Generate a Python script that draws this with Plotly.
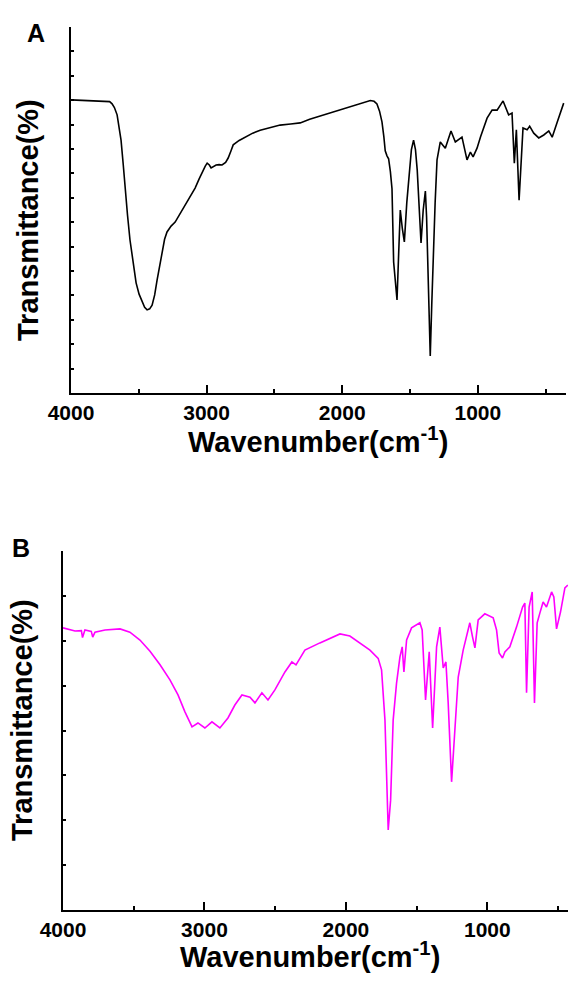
import plotly.graph_objects as go

# ---- Panel A data (wavenumber cm^-1, transmittance a.u.) ----
wn_a = [4000, 3860, 3749, 3715, 3697, 3680, 3660, 3645, 3631, 3615, 3601, 3583, 3565, 3543,
        3520, 3498, 3476, 3457, 3439, 3420, 3402, 3383, 3365, 3346, 3328, 3310, 3292, 3262,
        3232, 3195, 3159, 3122, 3085, 3055, 3026, 3010, 2996, 2980, 2967, 2950, 2930, 2908,
        2886, 2860, 2841, 2820, 2804, 2760, 2716, 2660, 2605, 2530, 2458, 2380, 2310, 2240,
        2162, 2090, 2015, 1960, 1904, 1860, 1830, 1793, 1765, 1744, 1725, 1707, 1693, 1683,
        1670, 1658, 1645, 1633, 1621, 1608, 1596, 1584, 1572, 1557, 1542, 1524, 1506, 1490,
        1474, 1460, 1447, 1433, 1419, 1403, 1387, 1378, 1369, 1360, 1351, 1340, 1328, 1315,
        1301, 1277, 1240, 1198, 1166, 1117, 1080, 1055, 1035, 1006, 980, 957, 932, 895, 858,
        814, 773, 748, 731, 716, 696, 667, 637, 618, 588, 551, 514, 477, 452, 415, 391, 367]
t_a = [80.1, 79.9, 79.8, 79.6, 79.0, 78.0, 76.0, 73.0, 69.1, 62.5, 55.5, 48.5, 41.8, 35.5,
       30.1, 27.0, 24.9, 23.4, 22.7, 23.0, 24.0, 26.8, 30.9, 35.0, 39.1, 42.0, 44.0, 45.6,
       46.7, 49.0, 51.4, 53.8, 56.0, 58.5, 60.9, 62.0, 62.8, 62.3, 61.5, 61.8, 62.3, 62.4,
       62.3, 63.0, 64.2, 66.2, 67.8, 69.0, 69.9, 71.0, 71.8, 72.6, 73.2, 73.5, 73.8, 74.8,
       75.7, 76.5, 77.3, 78.0, 78.7, 79.2, 79.5, 79.9, 79.7, 79.0, 77.0, 74.1, 70.0, 66.2,
       64.8, 64.0, 60.5, 55.8, 35.8, 30.0, 25.4, 38.0, 50.0, 45.0, 41.3, 52.0, 60.9, 66.5,
       69.1, 66.5, 60.9, 50.0, 41.0, 50.0, 55.2, 48.0, 36.3, 20.0, 10.1, 24.0, 39.1, 52.0,
       63.7, 68.6, 66.9, 71.6, 68.6, 69.9, 63.7, 65.8, 64.5, 66.9, 70.0, 72.7, 75.1, 77.3,
       77.3, 79.8, 76.0, 76.5, 62.8, 71.9, 52.7, 72.4, 71.9, 72.9, 71.0, 69.7, 70.5, 71.6,
       69.9, 74.0, 76.8, 79.2]

# ---- Panel B data ----
wn_b = [4000, 3915, 3870, 3862, 3845, 3800, 3790, 3774, 3703, 3597, 3527, 3456, 3385, 3314,
        3244, 3187, 3138, 3088, 3046, 2997, 2947, 2891, 2834, 2785, 2735, 2678, 2643, 2594,
        2551, 2502, 2431, 2382, 2353, 2290, 2184, 2042, 1972, 1901, 1830, 1772, 1748, 1724,
        1701, 1684, 1666, 1642, 1618, 1602, 1590, 1571, 1536, 1477, 1461, 1437, 1411, 1387,
        1359, 1336, 1312, 1293, 1277, 1253, 1230, 1206, 1171, 1124, 1105, 1088, 1065, 1018,
        959, 935, 917, 893, 876, 841, 794, 751, 735, 723, 705, 683, 667, 648, 629, 606, 582,
        546, 530, 511, 483, 452, 431]
t_b = [78.6, 77.7, 77.8, 75.9, 78.0, 77.6, 76.0, 77.4, 78.0, 78.3, 77.4, 75.2, 72.1, 68.3,
       64.1, 59.9, 55.2, 51.0, 52.1, 50.7, 52.4, 50.7, 53.5, 57.1, 59.9, 59.3, 57.7, 60.5,
       58.5, 61.3, 66.3, 69.1, 68.3, 72.4, 74.4, 76.9, 76.3, 74.4, 72.4, 70.1, 66.9, 52.9,
       22.3, 30.6, 52.9, 63.2, 70.5, 73.3, 66.3, 75.2, 78.6, 80.0, 78.0, 58.5, 71.9, 50.7,
       73.3, 78.8, 67.4, 69.1, 57.7, 35.7, 51.0, 64.9, 72.4, 80.0, 76.1, 73.0, 80.8, 82.5,
       81.4, 78.0, 71.6, 70.2, 71.9, 73.3, 78.8, 84.4, 85.5, 60.5, 84.4, 88.6, 57.7, 80.0,
       82.7, 85.8, 84.4, 88.6, 87.2, 78.3, 83.0, 89.7, 90.5]

x_ticks = [4000, 3000, 2000, 1000]
x_ticklabels = ["4000", "3000", "2000", "1000"]
x_minor = [3500, 2500, 1500, 500]

W, H = 568, 983
FONT = "Arial, Liberation Sans, sans-serif"

fig = go.Figure()
fig.add_trace(go.Scatter(x=wn_a, y=t_a, mode="lines", line=dict(color="black", width=1.6),
                         xaxis="x", yaxis="y", showlegend=False))
fig.add_trace(go.Scatter(x=wn_b, y=t_b, mode="lines", line=dict(color="#ff00ff", width=1.6),
                         xaxis="x2", yaxis="y2", showlegend=False))


def px_x(p):
    return p / W


def px_y(p):
    return 1 - p / H


xcommon = dict(showgrid=False, zeroline=False, showline=True, linecolor="black", linewidth=2,
               ticks="inside", ticklen=8, tickwidth=2, tickcolor="black",
               tickmode="array", tickvals=x_ticks, ticktext=x_ticklabels,
               tickfont=dict(family=FONT, size=21, color="black", weight="bold"),
               minor=dict(ticks="inside", ticklen=4, tickwidth=2, tickcolor="black",
                          tickmode="array", tickvals=x_minor),
               mirror=False, automargin=False)
ycommon = dict(showgrid=False, zeroline=False, showline=True, linecolor="black", linewidth=2,
               ticks="inside", ticklen=3, tickwidth=2, tickcolor="black", showticklabels=False,
               range=[0, 100], tick0=0, automargin=False)

fig.update_layout(
    width=W, height=H, margin=dict(l=0, r=0, t=0, b=0, autoexpand=False),
    paper_bgcolor="white", plot_bgcolor="white",
    xaxis=dict(**xcommon, domain=[px_x(71), px_x(566)], range=[4000, 350], anchor="y"),
    yaxis=dict(**ycommon, domain=[px_y(393), px_y(27)], dtick=100 / 15, anchor="x"),
    xaxis2=dict(**xcommon, domain=[px_x(63), 1.0], range=[4000, 430], anchor="y2"),
    yaxis2=dict(**ycommon, domain=[px_y(910), px_y(551)], dtick=12.5, anchor="x2"),
)

ann = [
    dict(text="A", x=px_x(36), y=px_y(33), size=25),
    dict(text="B", x=px_x(21), y=px_y(548), size=25),
    dict(text="Wavenumber(cm<sup>-1</sup>)", x=px_x(318), y=px_y(440), size=29),
    dict(text="Wavenumber(cm<sup>-1</sup>)", x=px_x(310), y=px_y(955), size=29),
    dict(text="Transmittance(%)", x=px_x(28), y=px_y(220), size=29, angle=-90),
    dict(text="Transmittance(%)", x=px_x(22), y=px_y(720), size=29, angle=-90),
]
for a in ann:
    fig.add_annotation(text=a["text"], x=a["x"], y=a["y"], xref="paper", yref="paper",
                       xanchor="center", yanchor="middle", showarrow=False,
                       textangle=a.get("angle", 0),
                       font=dict(family=FONT, size=a["size"], color="black", weight="bold"))

fig.write_html("out.html")
